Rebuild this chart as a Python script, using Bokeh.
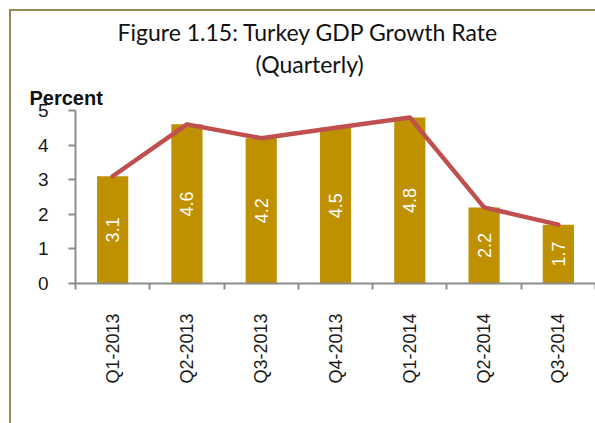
from bokeh.plotting import figure
from bokeh.models import Range1d, FixedTicker, ColumnDataSource, LinearAxis, Title
from bokeh.embed import file_html
from bokeh.resources import INLINE
from bokeh.core.properties import value
import math

quarters = ["Q1-2013", "Q2-2013", "Q3-2013", "Q4-2013", "Q1-2014", "Q2-2014", "Q3-2014"]
growth = [3.1, 4.6, 4.2, 4.5, 4.8, 2.2, 1.7]
y_ticks = [0, 1, 2, 3, 4, 5]

idx = list(range(1, len(quarters) + 1))
src = ColumnDataSource(dict(
    x=idx,
    v=growth,
    mid=[g / 2 for g in growth],
    lab=[f"{g:.1f}" for g in growth],
))

W, H = 595, 423
FL, FR = 75, 595

border = "#948A54"
p = figure(width=W, height=H, output_backend="svg", toolbar_location=None,
           x_range=Range1d(0.5, len(quarters) + 0.5), y_range=Range1d(0, 5),
           x_axis_type=None, y_axis_type=None, title=None,
           min_border_left=FL, min_border_right=0, min_border_top=0,
           min_border_bottom=140,
           styles={
               "background-image": f"linear-gradient({border}, {border}), linear-gradient({border}, {border})",
               "background-size": "2px 100%, 100% 2px",
               "background-position": "9px 9px, 9px 9px",
               "background-repeat": "no-repeat",
           })
p.outline_line_color = None
p.background_fill_color = "white"
p.border_fill_color = None

# axes
yax = LinearAxis(ticker=FixedTicker(ticks=y_ticks))
yax.axis_line_color = "#8c8c8c"
yax.axis_line_width = 2
yax.major_tick_line_color = "#8c8c8c"
yax.major_tick_line_width = 2
yax.major_tick_out = 7
yax.major_tick_in = 0
yax.minor_tick_line_color = None
yax.major_label_standoff = 20
yax.major_label_text_font = "Liberation Sans"
yax.major_label_text_font_size = "19px"
yax.major_label_text_color = "#1a1a1a"
p.add_layout(yax, "left")

xax = LinearAxis(ticker=FixedTicker(ticks=idx, minor_ticks=[i - 0.5 for i in idx] + [len(idx) + 0.5]))
xax.major_label_overrides = {i: q for i, q in zip(idx, quarters)}
xax.axis_line_color = "#8c8c8c"
xax.axis_line_width = 2
xax.major_tick_line_color = None
xax.minor_tick_line_color = "#8c8c8c"
xax.minor_tick_line_width = 2
xax.minor_tick_out = 6
xax.minor_tick_in = 0
xax.major_label_orientation = math.pi / 2
xax.major_label_standoff = 24
xax.major_label_text_font = "Liberation Sans"
xax.major_label_text_font_size = "18px"
xax.major_label_text_color = "#1a1a1a"
p.add_layout(xax, "below")

p.ygrid.ticker = FixedTicker(ticks=y_ticks[1:])
p.ygrid.grid_line_color = "#ececec"
p.ygrid.grid_line_width = 2
p.xgrid.visible = False

# bars
p.vbar(x="x", top="v", width=0.42, bottom=0, source=src, fill_color="#BF9000", line_color=None)
# labels inside bars
p.text(x="x", y="mid", text="lab", source=src, angle=math.pi / 2,
       text_align="center", text_baseline="middle", text_color="white",
       text_font=value("Liberation Sans"), text_font_size="18px")
# line
p.line(x="x", y="v", source=src, line_color="#C0504D", line_width=4.5,
       line_join="round", line_cap="round")

# titles stacked above the frame (first added = nearest the frame)
p.add_layout(Title(text="Percent", align="left", offset=29 - FL, standoff=4,
                   text_font="Liberation Sans", text_font_size="20px",
                   text_font_style="bold", text_color="#111111"), "above")
p.add_layout(Title(text="(Quarterly)", align="left", offset=255 - FL, standoff=9,
                   text_font="Lato", text_font_size="23px", text_font_style="normal",
                   text_color="#111111"), "above")
p.add_layout(Title(text="Figure 1.15: Turkey GDP Growth Rate", align="left",
                   offset=117 - FL, standoff=-5,
                   text_font="Lato", text_font_size="23px", text_font_style="normal",
                   text_color="#111111"), "above")
p.add_layout(Title(text=" ", align="left", standoff=1,
                   text_font="Liberation Sans", text_font_size="13px"), "above")

open("out.html", "w").write(file_html(p, INLINE))
